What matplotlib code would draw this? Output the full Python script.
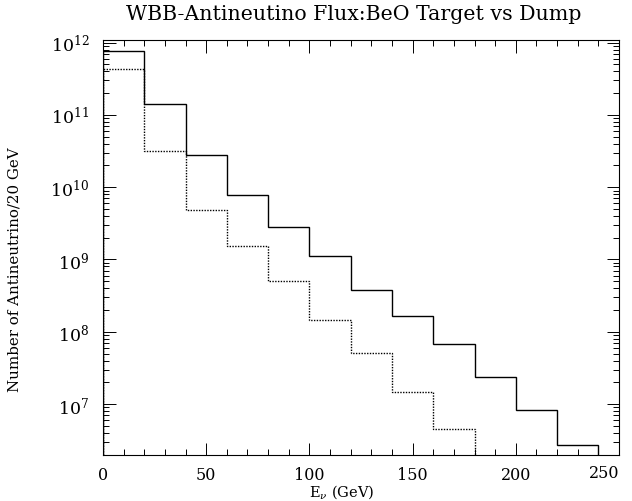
import numpy as np
import matplotlib
matplotlib.use('Agg')
import matplotlib.pyplot as plt
import matplotlib.transforms as mtransforms
from matplotlib.ticker import MultipleLocator, LogLocator, NullFormatter, FuncFormatter

plt.rcParams['font.family'] = 'DejaVu Serif'
plt.rcParams['mathtext.fontset'] = 'dejavuserif'

# bin edges (GeV), 20 GeV bins
edges_target = [0, 20, 40, 60, 80, 100, 120, 140, 160, 180, 200, 220, 240]
edges_dump = [0, 20, 40, 60, 80, 100, 120, 140, 160, 180]

# antineutrinos per 20 GeV bin
flux_target = [7.7e11, 1.42e11, 2.8e10, 7.8e9, 2.8e9, 1.12e9, 3.8e8,
               1.65e8, 6.8e7, 2.4e7, 8.3e6, 2.7e6]
flux_dump = [4.3e11, 3.2e10, 4.8e9, 1.54e9, 5.0e8, 1.45e8, 5.1e7,
             1.47e7, 4.5e6]

xmax = 250

W, H = 632, 502
fig = plt.figure(figsize=(W/100, H/100), dpi=100)
ax = fig.add_axes([103/W, 1 - 456/H, 516/W, 415/H])

ax.stairs(flux_target, edges_target, color='black', lw=1.0)
ax.stairs(flux_dump, edges_dump, color='black', lw=1.0,
          linestyle=(0, (1, 1)), baseline=1e5)

ax.set_yscale('log')
ax.set_xlim(0, xmax)
ax.set_ylim(1.97e6, 1.09e12)

ax.xaxis.set_major_locator(MultipleLocator(50))
ax.xaxis.set_minor_locator(MultipleLocator(10))
# the label at the right corner is drawn separately, right-aligned
ax.xaxis.set_major_formatter(FuncFormatter(lambda v, p: '' if v >= xmax else '%d' % v))
ax.yaxis.set_major_locator(LogLocator(base=10, numticks=20))
ax.yaxis.set_minor_locator(LogLocator(base=10, subs=np.arange(2, 10), numticks=20))
ax.yaxis.set_minor_formatter(NullFormatter())

ax.tick_params(which='both', direction='in', top=True, right=True, width=0.7)
ax.tick_params(which='major', length=9, labelsize=11.5)
ax.tick_params(axis='y', which='major', labelsize=12.5, pad=10)
ax.tick_params(axis='x', which='major', pad=8)
ax.tick_params(which='minor', length=4)
for s in ax.spines.values():
    s.set_linewidth(0.8)

trans = mtransforms.blended_transform_factory(ax.transData, fig.transFigure)
ax.text(xmax, 1 - 474/H, '%d' % xmax, transform=trans, fontsize=11.5,
        ha='right', va='center')

fig.text(354/W, 1 - 14/H, 'WBB-Antineutino Flux:BeO Target vs Dump',
         fontsize=14.8, ha='center', va='center')
fig.text(342/W, 1 - 492/H, r'E$_\nu$ (GeV)', fontsize=10.5, ha='center', va='center')
fig.text(15/W, 1 - 270/H, 'Number of Antineutrino/20 GeV', fontsize=10.8,
         rotation=90, ha='center', va='center')

fig.savefig('out.png', dpi=100)
